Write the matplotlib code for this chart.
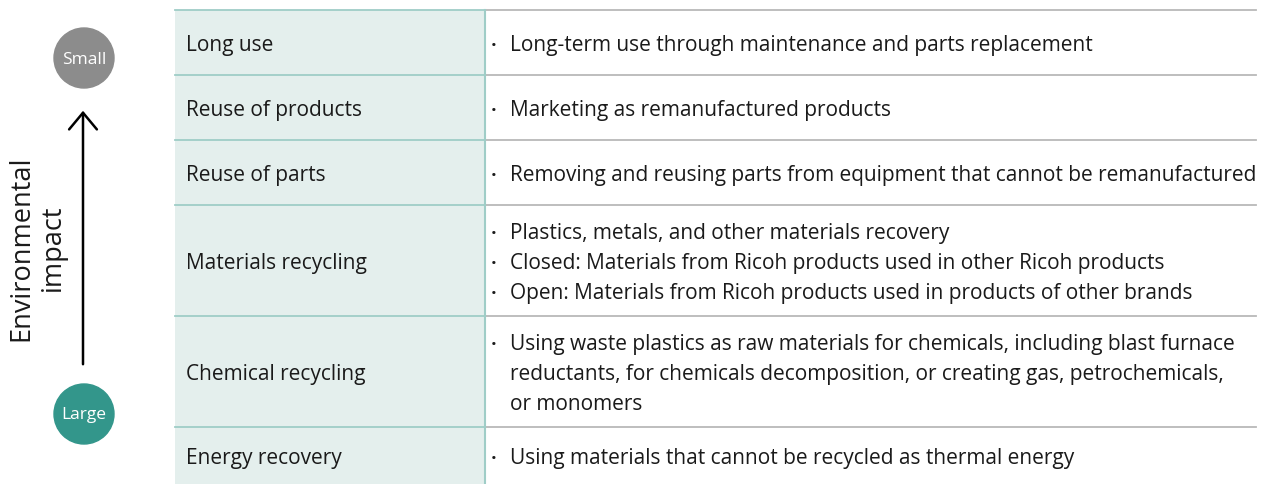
import matplotlib.pyplot as plt
from matplotlib.patches import Rectangle, Circle, FancyArrowPatch

plt.rcParams['font.family'] = ['Open Sans', 'DejaVu Sans']

# Datos de la tabla
categories = ['Long use', 'Reuse of products', 'Reuse of parts',
              'Materials recycling', 'Chemical recycling', 'Energy recovery']
descriptions = [
    ['• Long-term use through maintenance and parts replacement'],
    ['• Marketing as remanufactured products'],
    ['• Removing and reusing parts from equipment that cannot be remanufactured'],
    ['• Plastics, metals, and other materials recovery',
     '• Closed: Materials from Ricoh products used in other Ricoh products',
     '• Open: Materials from Ricoh products used in products of other brands'],
    ['• Using waste plastics as raw materials for chemicals, including blast furnace',
     '  reductants, for chemicals decomposition, or creating gas, petrochemicals,',
     '  or monomers'],
    ['• Using materials that cannot be recycled as thermal energy'],
]
axis_label = 'Environmental\nimpact'
top_label = 'Small'
bottom_label = 'Large'

# Layout (pixeles)
W, H = 1266, 485
row_h = [65, 65, 65, 111, 111, 57]
x0, xdiv, x1 = 175, 484.5, 1256
y_top = 11
line_gap = 30
fs = 15

fig = plt.figure(figsize=(W / 100, H / 100), dpi=100)
ax = fig.add_axes([0, 0, 1, 1])
ax.set_xlim(0, W)
ax.set_ylim(H, 0)
ax.axis('off')

teal_line = '#9fcdc7'
gray_line = '#b9b9b9'
fill = '#e4efed'
txt = '#1a1a1a'

y = y_top
ax.add_patch(Rectangle((x0, y_top), xdiv - x0, sum(row_h), color=fill, lw=0, zorder=0))
for i, (cat, desc) in enumerate(zip(categories, descriptions)):
    h = row_h[i]
    ax.plot([x0, xdiv], [y, y], color=teal_line, lw=1.3, zorder=2)
    ax.plot([xdiv, x1], [y, y], color=gray_line, lw=1.3, zorder=2)
    yc = y + h / 2 + 2
    ax.text(186, yc, cat, fontsize=fs, va='center', ha='left', color=txt)
    n = len(desc)
    for j, line in enumerate(desc):
        yy = yc + (j - (n - 1) / 2) * line_gap
        if line.startswith('•'):
            ax.text(491, yy + 1, '•', fontsize=11, va='center', ha='left', color=txt)
        ax.text(510, yy, line[2:], fontsize=fs, va='center', ha='left', color=txt)
    y += h
ax.plot([xdiv, xdiv], [y_top, H], color=teal_line, lw=1.5, zorder=3)

# Eje de impacto ambiental
ax.add_patch(Circle((84, 59), 30, color='#8c8c8c', zorder=3))
ax.add_patch(Circle((84, 415), 30, color='#33968b', zorder=3))
ax.text(84, 60, top_label, color='white', fontsize=12.5, ha='center', va='center', zorder=4)
ax.text(84, 415, bottom_label, color='white', fontsize=12.5, ha='center', va='center', zorder=4)
ax.add_patch(FancyArrowPatch((83, 368), (83, 109), arrowstyle='->,head_length=6,head_width=5',
                             color='black', lw=1.8, mutation_scale=2.0))
ax.text(37, 248, axis_label, rotation=90, fontsize=19.5, ha='center', va='center',
        linespacing=1.2, color=txt)

plt.savefig('out.png', dpi=100)
